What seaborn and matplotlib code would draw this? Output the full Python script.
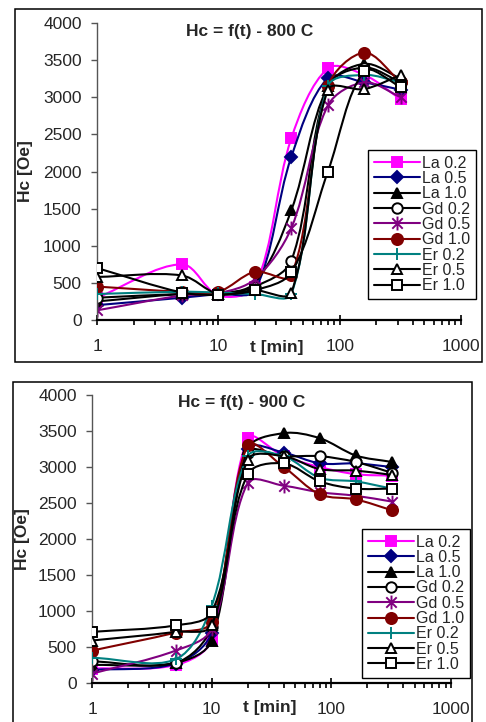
import numpy as np
import pandas as pd
import seaborn as sns
import matplotlib.pyplot as plt
from matplotlib.path import Path
from matplotlib.patches import PathPatch, Rectangle
from matplotlib.lines import Line2D

t_min = [1, 5, 10, 20, 40, 80, 160, 320]
series_names = ["La 0.2", "La 0.5", "La 1.0", "Gd 0.2", "Gd 0.5", "Gd 1.0", "Er 0.2", "Er 0.5", "Er 1.0"]

# 800 C
hc800_la02 = [300, 750, 330, 450, 2450, 3390, 3300, 2970]
hc800_la05 = [200, 300, 350, 400, 2200, 3260, 3200, 3100]
hc800_la10 = [250, 350, 350, 500, 1480, 3150, 3450, 3250]
hc800_gd02 = [300, 350, 350, 450, 800, 3150, 3400, 3200]
hc800_gd05 = [130, 330, 360, 550, 1240, 2890, 3200, 3000]
hc800_gd10 = [450, 380, 380, 650, 600, 3150, 3600, 3200]
hc800_er02 = [350, 380, 370, 350, 350, 3150, 3300, 3200]
hc800_er05 = [580, 600, 350, 400, 370, 3100, 3110, 3300]
hc800_er10 = [700, 370, 340, 400, 640, 2000, 3350, 3140]

# 900 C
hc900_la02 = [200, 250, 600, 3400, 3150, 3000, 2900, 2880]
hc900_la05 = [180, 270, 700, 3250, 3200, 3050, 3050, 3000]
hc900_la10 = [250, 280, 590, 3250, 3470, 3400, 3160, 3070]
hc900_gd02 = [300, 280, 780, 3200, 3150, 3150, 3070, 2920]
hc900_gd05 = [130, 450, 750, 2780, 2740, 2650, 2600, 2520]
hc900_gd10 = [450, 700, 850, 3300, 3000, 2620, 2550, 2400]
hc900_er02 = [350, 330, 1070, 3150, 3150, 2850, 2800, 2700]
hc900_er05 = [590, 710, 800, 3100, 3150, 2970, 2950, 2890]
hc900_er10 = [710, 800, 980, 2900, 3050, 2800, 2700, 2700]

panels = [
    ("Hc = f(t) - 800 C", [hc800_la02, hc800_la05, hc800_la10, hc800_gd02, hc800_gd05,
                           hc800_gd10, hc800_er02, hc800_er05, hc800_er10]),
    ("Hc = f(t) - 900 C", [hc900_la02, hc900_la05, hc900_la10, hc900_gd02, hc900_gd05,
                           hc900_gd10, hc900_er02, hc900_er05, hc900_er10]),
]

star = Path([(0, -1), (0, 1), (-0.75, -0.75), (0.75, 0.75), (-0.75, 0.75), (0.75, -0.75)],
            [Path.MOVETO, Path.LINETO, Path.MOVETO, Path.LINETO, Path.MOVETO, Path.LINETO])

# color, marker, face, size
styles = [
    ("#FF00FF", "s", "#FF00FF", 7.5),
    ("#000080", "D", "#000080", 6),
    ("#000000", "^", "#000000", 7.5),
    ("#000000", "o", "white", 7.5),
    ("#800080", star, "#800080", 10),
    ("#800000", "o", "#800000", 8),
    ("#008080", "+", "#008080", 9),
    ("#000000", "^", "white", 7.5),
    ("#000000", "s", "white", 7.5),
]

sns.set_style("white")
plt.rcParams['font.family'] = ['Liberation Sans', 'DejaVu Sans']


def smooth_path(x, y, sx, sy):
    # smoothed line like the spreadsheet: bezier segments worked out in pixel-like space
    p = np.column_stack([np.log10(np.asarray(x, float)) * sx, np.asarray(y, float) * sy])
    n = len(p)
    d = np.hypot(*np.diff(p, axis=0).T)
    cout = []
    cin = []
    for i in range(n):
        if i == 0:
            tan = p[1] - p[0]
            cout.append(p[0] + tan / 3.0)
            cin.append(p[0])
        elif i == n - 1:
            tan = p[-1] - p[-2]
            cin.append(p[-1] - tan / 3.0)
            cout.append(p[-1])
        else:
            tan = p[i + 1] - p[i - 1]
            tot = d[i - 1] + d[i]
            cout.append(p[i] + tan * d[i] / tot / 3.0)
            cin.append(p[i] - tan * d[i - 1] / tot / 3.0)
    verts = [p[0]]
    codes = [Path.MOVETO]
    for i in range(n - 1):
        verts += [cout[i], cin[i + 1], p[i + 1]]
        codes += [Path.CURVE4] * 3
    v = np.array(verts)
    v[:, 0] = 10 ** (v[:, 0] / sx)
    v[:, 1] = v[:, 1] / sy
    return Path(v, codes)


fig = plt.figure(figsize=(4.86, 7.22), dpi=100)

fig.patches.append(Rectangle((15 / 486, 1 - 362 / 722), 467 / 486, 353 / 722,
                             transform=fig.transFigure, fill=False, ec="black", lw=1.1))
fig.patches.append(Rectangle((13 / 486, -0.05), 459 / 486, 1 - 382 / 722 + 0.05,
                             transform=fig.transFigure, fill=False, ec="black", lw=1.1))

ax_pos = [[97 / 486, 1 - 320 / 722, 364 / 486, 297 / 722],
          [92 / 486, 1 - 683 / 722, 359 / 486, 288 / 722]]
leg_pos = [(0.745, 0.572), (0.752, 0.535)]
ylab_x = [-0.176, -0.173]

for k, (title, data) in enumerate(panels):
    ax = fig.add_axes(ax_pos[k])
    ax.set_xscale("log")
    w_px = ax_pos[k][2] * 486
    h_px = ax_pos[k][3] * 722
    handles = []
    for i, (name, vals) in enumerate(zip(series_names, data)):
        col, mk, face, ms = styles[i]
        z = 2 + i * 0.1
        ax.add_patch(PathPatch(smooth_path(t_min, vals, w_px / 3.0, h_px / 4000.0),
                               fill=False, ec=col, lw=1.5, zorder=z))
        df = pd.DataFrame({"t": t_min, "hc": vals})
        sns.lineplot(data=df, x="t", y="hc", ax=ax, color=col, marker=mk, markersize=ms,
                     markerfacecolor=face, markeredgecolor=col, markeredgewidth=1.4,
                     linestyle="none", zorder=z + 0.05, legend=False)
        handles.append(Line2D([], [], color=col, lw=1.5, marker=mk, markersize=ms,
                              markerfacecolor=face, markeredgecolor=col, markeredgewidth=1.4))

    ax.set_xlim(1, 1000)
    ax.set_ylim(0, 4000)
    ax.set_yticks(range(0, 4001, 500))
    ax.set_xticks([1, 10, 100, 1000])
    ax.set_xticklabels(["1", "10", "100", "1000"])
    for s in ["top", "right"]:
        ax.spines[s].set_visible(False)
    ax.spines["left"].set_color("#555555")
    ax.spines["left"].set_linewidth(1.0)
    ax.spines["bottom"].set_color("black")
    ax.spines["bottom"].set_linewidth(1.6)
    ax.tick_params(axis="y", which="major", direction="out", length=4, width=1,
                   color="#555555", labelsize=12.5, pad=7, left=True)
    ax.tick_params(axis="x", which="major", direction="inout", length=7, width=1.2,
                   color="black", labelsize=12.5, pad=10, bottom=True)
    ax.tick_params(axis="x", which="minor", direction="out", length=3.5, width=1.2,
                   color="black", bottom=True)
    ax.patch.set_alpha(0)

    ax.set_ylabel("Hc [Oe]", fontsize=12.5, fontweight="bold", labelpad=0)
    ax.yaxis.set_label_coords(ylab_x[k], 0.5)
    ax.set_xlabel("t [min]", fontsize=12.5, fontweight="bold")
    ax.xaxis.label.set_va("center")
    ax.xaxis.set_label_coords(0.495, -0.092 if k == 0 else -0.085)
    ax.text(0.418, 0.973, title, transform=ax.transAxes, ha="center", va="center",
            fontsize=12.5, fontweight="bold")

    leg = ax.legend(handles, series_names, loc="upper left", bbox_to_anchor=leg_pos[k],
                    borderaxespad=0, fontsize=11.5, frameon=True, fancybox=False,
                    edgecolor="black", framealpha=1, handlelength=2.9, handletextpad=0.15,
                    labelspacing=0.02, borderpad=0.35)
    leg.get_frame().set_linewidth(1.0)
    leg.set_zorder(10)

fig.savefig("out.png", dpi=100)
